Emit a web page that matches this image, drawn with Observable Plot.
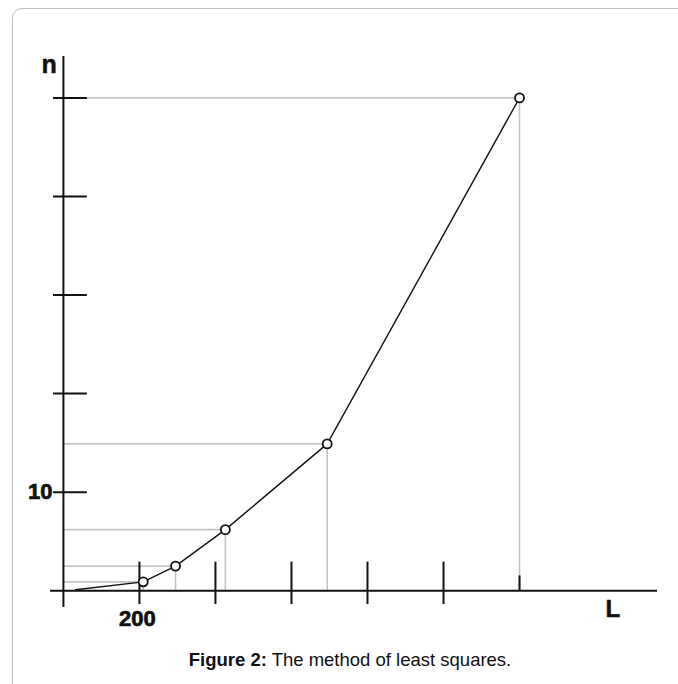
<!DOCTYPE html>
<html>
<head>
<meta charset="utf-8">
<script src="https://cdn.jsdelivr.net/npm/d3@7"></script>
<script src="https://cdn.jsdelivr.net/npm/@observablehq/plot@0.6"></script>
<style>
  html, body { margin: 0; padding: 0; background: #fff; overflow: hidden; }
  #wrap { position: relative; width: 678px; height: 684px; }
  #frame { position: absolute; left: 12px; top: 8px; width: 690px; height: 700px;
           border: 1px solid #bdbdbd; border-radius: 10px; box-sizing: border-box; }
  #chart { position: absolute; left: 0; top: 0; }
  #caption { position: absolute; left: 12px; width: 676px; top: 650px; text-align: center;
             font-family: "Liberation Sans", Arial, sans-serif; font-size: 18.5px; line-height: 20px; color: #111; }
</style>
</head>
<body>
<div id="wrap">
  <div id="frame"></div>
  <div id="chart"></div>
  <div id="caption"><b>Figure 2:</b> The method of least squares.</div>
</div>
<script>
// Measured points (L, n)
const pointL = [210, 295, 426, 694, 1200];
const pointN = [0.9, 2.5, 6.2, 14.9, 50];
// curve starts just right of the origin
const curveL = [32, 210, 295, 426, 694, 1200];
const curveN = [0.1, 0.9, 2.5, 6.2, 14.9, 50];
// axis ticks
const xTicks = [200, 400, 600, 800, 1000];
const xTickShort = [1200];
const yTicks = [10, 20, 30, 40, 50];
const xTickLabels = [{v: 200, t: "200"}];
const yTickLabels = [{v: 10, t: "10"}];

const points = pointL.map((L, i) => ({L, n: pointN[i]}));
const curve = curveL.map((L, i) => ({L, n: curveN[i]}));

const font = "'Liberation Sans', Arial, sans-serif";
const grey = "#c4c4c4";

const chart = Plot.plot({
  width: 678,
  height: 640,
  marginLeft: 50,
  marginRight: 21,
  marginTop: 56,
  marginBottom: 33,
  x: {domain: [-34, 1563], axis: null},
  y: {domain: [-1.7, 54.2], axis: null},
  style: {fontFamily: font, background: "transparent"},
  marks: [
    // guide lines
    Plot.ruleY(points, {y: "n", x1: 0, x2: "L", stroke: grey, strokeWidth: 1.6}),
    Plot.ruleX(points, {x: "L", y1: 0, y2: "n", stroke: grey, strokeWidth: 1.6}),
    // axes
    Plot.ruleY([0], {stroke: "#111", strokeWidth: 2}),
    Plot.ruleX([0], {stroke: "#111", strokeWidth: 2}),
    // ticks
    Plot.ruleX(xTicks, {x: d => d, y1: -1.4, y2: 2.9, stroke: "#111", strokeWidth: 2}),
    Plot.ruleX(xTickShort, {x: d => d, y1: 0, y2: 1.5, stroke: "#111", strokeWidth: 2}),
    Plot.ruleY(yTicks, {y: d => d, x1: -26, x2: 63, stroke: "#111", strokeWidth: 2}),
    // tick labels
    Plot.text(xTickLabels, {x: "v", y: 0, text: "t", dx: -2, dy: 28, fontSize: 22, fontWeight: "bold", fill: "#111", stroke: "#111", strokeWidth: 0.7}),
    Plot.text(yTickLabels, {x: 0, y: "v", text: "t", dx: -11, textAnchor: "end", fontSize: 22, fontWeight: "bold", fill: "#111", stroke: "#111", strokeWidth: 0.7}),
    // axis labels
    Plot.text(["n"], {frameAnchor: "top-left", dx: -9, dy: -1, textAnchor: "start", fontSize: 25, fontWeight: "bold", fill: "#111", stroke: "#111", strokeWidth: 0.5}),
    Plot.text(["L"], {frameAnchor: "bottom-right", dx: -52, dy: 9, textAnchor: "start", fontSize: 24, fontWeight: "bold", fill: "#111", stroke: "#111", strokeWidth: 0.5}),
    // curve and points
    Plot.line(curve, {x: "L", y: "n", stroke: "#111", strokeWidth: 1.4}),
    Plot.dot(points, {x: "L", y: "n", r: 4.5, stroke: "#111", strokeWidth: 1.8, fill: "#fff"})
  ]
});
document.getElementById("chart").appendChild(chart);
</script>
</body>
</html>
